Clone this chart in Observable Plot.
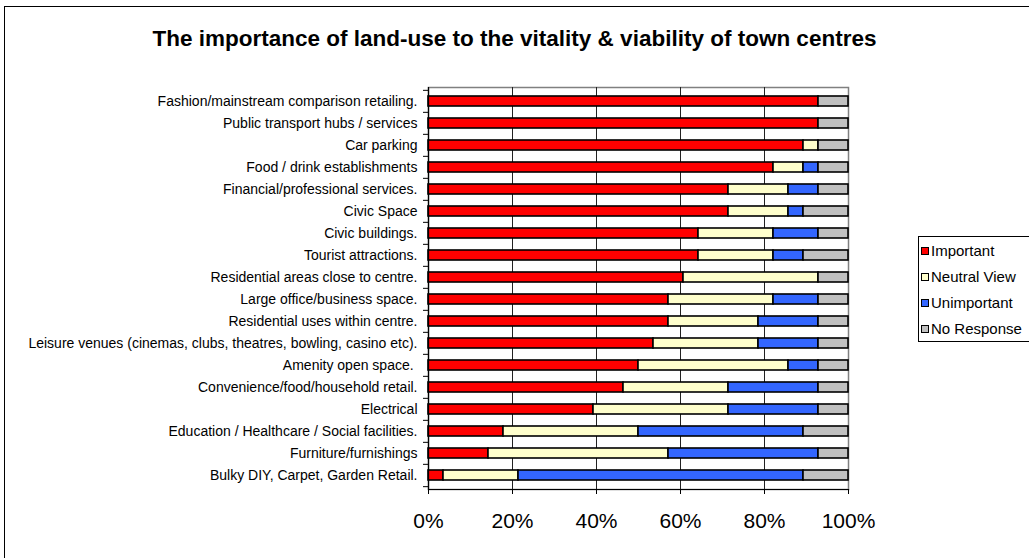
<!DOCTYPE html>
<html>
<head>
<meta charset="utf-8">
<script src="https://cdn.jsdelivr.net/npm/d3@7"></script>
<script src="https://cdn.jsdelivr.net/npm/@observablehq/plot@0.6"></script>
<style>
  html, body { margin: 0; padding: 0; background: #fff; overflow: hidden; }
  #wrap { position: relative; width: 1029px; height: 558px; font-family: "Liberation Sans", Arial, sans-serif; }
  #outer { position: absolute; left: 4px; top: 6px; width: 1040px; height: 570px; border: 1px solid #000; box-sizing: border-box; pointer-events: none; }
  #title { position: absolute; left: 0; width: 1029px; top: 26px; text-align: center; font-weight: bold; font-size: 22.5px; color: #000; }
  #chart { position: absolute; left: 0; top: 0; }
  #legend { position: absolute; left: 918px; top: 236px; width: 120px; height: 106px; border: 1px solid #000; box-sizing: border-box; background: #fff; }
  .item { position: absolute; left: 2px; font-size: 15px; line-height: 18px; color: #000; white-space: nowrap; }
  .sw { display: inline-block; width: 6px; height: 6px; border: 1px solid #000; margin-right: 2px; vertical-align: 1px; }
</style>
</head>
<body>
<div id="wrap">
  <div id="chart"></div>
  <div id="title">The importance of land-use to the vitality &amp; viability of town centres</div>
  <div id="legend"></div>
  <div id="outer"></div>
</div>
<script>
const categories = [
  "Fashion/mainstream comparison retailing.",
  "Public transport hubs / services",
  "Car parking",
  "Food / drink establishments",
  "Financial/professional services.",
  "Civic Space",
  "Civic buildings.",
  "Tourist attractions.",
  "Residential areas close to centre.",
  "Large office/business space.",
  "Residential uses within centre.",
  "Leisure venues (cinemas, clubs, theatres, bowling, casino etc).",
  "Amenity open space. ",
  "Convenience/food/household retail.",
  "Electrical",
  "Education / Healthcare / Social facilities.",
  "Furniture/furnishings",
  "Bulky DIY, Carpet, Garden Retail."
];
// Response counts (out of 28 respondents)
const important   = [26, 26, 25, 23, 20, 20, 18, 18, 17, 16, 16, 15, 14, 13, 11, 5, 4, 1];
const neutral     = [ 0,  0,  1,  2,  4,  4,  5,  5,  9,  7,  6,  7, 10,  7,  9, 9, 12, 5];
const unimportant = [ 0,  0,  0,  1,  2,  1,  3,  2,  0,  3,  4,  4,  2,  6,  6, 11, 10, 19];
const noResponse  = [ 2,  2,  2,  2,  2,  3,  2,  3,  2,  2,  2,  2,  2,  2,  2, 3, 2, 3];
const responses = ["Important", "Neutral View", "Unimportant", "No Response"];
const colors = ["#FF0000", "#FFFFCC", "#3366FF", "#C0C0C0"];
const xTicks = [0, 0.2, 0.4, 0.6, 0.8, 1];

const series = [important, neutral, unimportant, noResponse];
const data = [];
categories.forEach((c, i) => {
  responses.forEach((r, j) => data.push({category: c, response: r, value: series[j][i]}));
});

const W = 1029, H = 558;
const mTop = 87, mBottom = 69, mLeft = 428, mRight = 181;
const step = (H - mTop - mBottom) / categories.length;

const chart = Plot.plot({
  width: W,
  height: H,
  marginTop: mTop,
  marginBottom: mBottom,
  marginLeft: mLeft,
  marginRight: mRight,
  style: {fontFamily: "'Liberation Sans', Arial, sans-serif", background: "transparent", color: "#000"},
  x: {domain: [0, 1]},
  y: {domain: categories, paddingInner: 0.55, paddingOuter: 0.275},
  color: {domain: responses, range: colors},
  marks: [
    Plot.frame({stroke: "#808080", strokeWidth: 1.5}),
    Plot.ruleX([0.2, 0.4, 0.6, 0.8], {stroke: "#222", strokeWidth: 1}),
    Plot.barX(data, Plot.stackX({
      x: "value", y: "category", fill: "response",
      order: responses, offset: "normalize",
      stroke: "#000", strokeWidth: 1.6
    })),
    Plot.ruleX([0], {stroke: "#000", strokeWidth: 1.2}),
    Plot.frame({anchor: "bottom", stroke: "#000", strokeWidth: 1.2}),
    Plot.ruleY(categories, {y: d => d, dy: -step / 2, x1: -5 / 420, x2: 0, stroke: "#000"}),
    Plot.ruleY(categories.slice(-1), {y: d => d, dy: step / 2, x1: -5 / 420, x2: 0, stroke: "#000"}),
    Plot.axisX({ticks: xTicks, tickFormat: d => Math.round(d * 100) + "%", tickSize: 5, tickPadding: 19, fontSize: 21, label: null}),
    Plot.axisY({tickSize: 0, tickPadding: 11, fontSize: 14, label: null})
  ]
});
document.getElementById("chart").appendChild(chart);

const legend = document.getElementById("legend");
responses.forEach((r, i) => {
  const d = document.createElement("div");
  d.className = "item";
  d.style.top = (5 + i * 26) + "px";
  d.innerHTML = `<span class="sw" style="background:${colors[i]}"></span>${r}`;
  legend.appendChild(d);
});
</script>
</body>
</html>
